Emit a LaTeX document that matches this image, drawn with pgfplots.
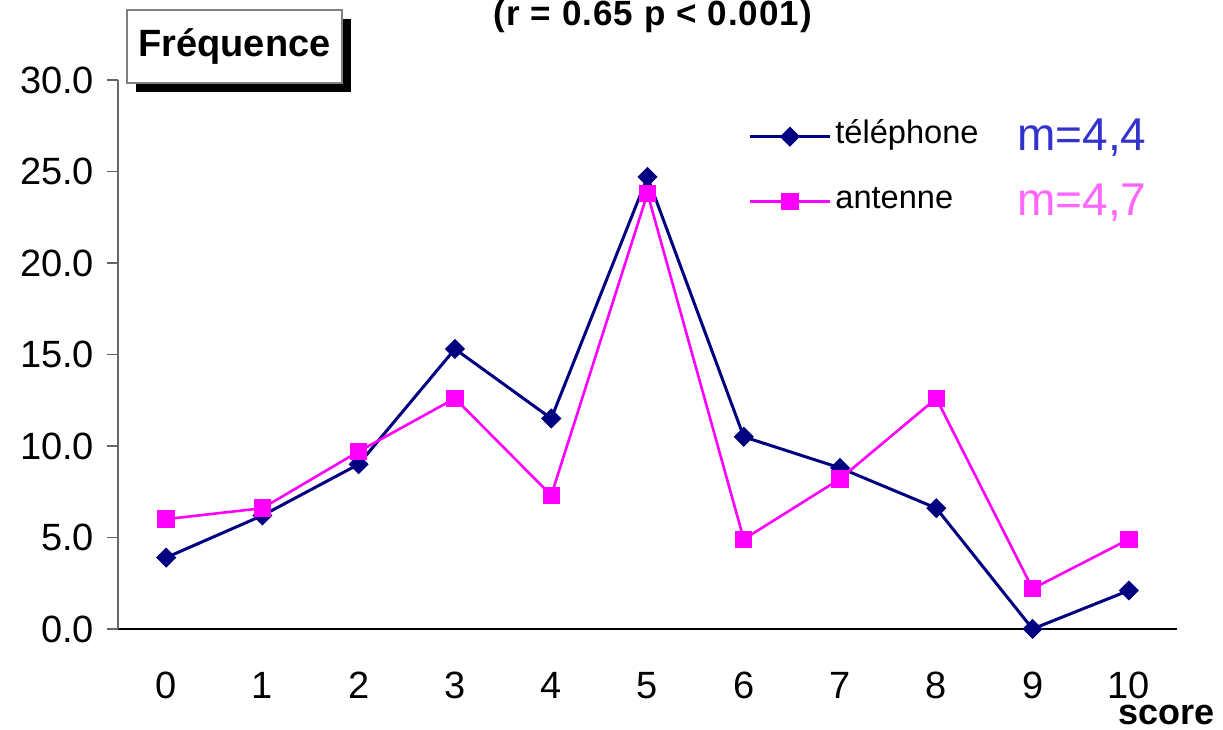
\documentclass[border=0pt]{standalone}
\usepackage{fontspec}
\setmainfont{Liberation Sans}
\usepackage{pgfplots}
\pgfplotsset{compat=1.18}
\usetikzlibrary{shadows}
\definecolor{telnavy}{RGB}{0,0,128}
\definecolor{antmag}{RGB}{255,0,255}
\definecolor{mblue}{RGB}{51,51,204}
\definecolor{mpink}{RGB}{255,102,255}

\begin{document}
\begin{tikzpicture}
\begin{axis}[
    x=48.135bp, y=9.15bp,
    xmin=-0.5, xmax=10.5,
    ymin=0, ymax=30,
    clip=false,
    axis x line*=bottom, axis y line*=left,
    x axis line style={-, black, line width=0.6bp},
    y axis line style={-, gray!80!black, line width=0.6bp},
    xtick={0,...,10},
    ytick={0,5,...,30},
    major x tick style={draw=none},
    ytick align=outside,
    major tick length=5.5bp,
    major y tick style={gray!80!black, line width=0.6bp},
    tick label style={
        font=\fontsize{19bp}{22bp}\selectfont,
        /pgf/number format/assume math mode=true
    },
    yticklabel style={
        /pgf/number format/.cd, fixed, fixed zerofill, precision=1,
        /tikz/.cd, xshift=-3bp
    },
    xticklabel style={inner sep=1bp, yshift=-20.3bp},
    legend style={
        at={(axis cs:6.044,27.96)}, anchor=north west,
        draw=none, fill=none, inner sep=0pt,
        font=\fontsize{16.3bp}{19bp}\selectfont,
        nodes={inner sep=2bp, text height=11bp, text depth=4bp},
        row sep=13.5bp
    },
    legend cell align=left,
    legend image code/.code={
        \draw[mark repeat=2, mark phase=2, #1]
            plot coordinates {(0bp,0bp) (20bp,0bp) (40bp,0bp)};
    },
]

\addplot[telnavy, line width=1.5bp, mark=square*,
    mark size=3.3bp, mark options={rotate=45, solid, fill=telnavy, line width=0.5bp}]
    coordinates {
        (0,3.9) (1,6.2) (2,9.0) (3,15.3) (4,11.5) (5,24.7)
        (6,10.5) (7,8.8) (8,6.6) (9,0.0) (10,2.1)
    };
\addlegendentry{téléphone}

\addplot[antmag, line width=1.3bp, mark=square*,
    mark size=3.7bp, mark options={solid, fill=antmag}]
    coordinates {
        (0,6.0) (1,6.6) (2,9.7) (3,12.6) (4,7.3) (5,23.8)
        (6,4.9) (7,8.2) (8,12.6) (9,2.2) (10,4.9)
    };
\addlegendentry{antenne}

% annotations
\node[anchor=base, font=\fontsize{17.5bp}{20bp}\selectfont\bfseries\addfontfeature{LetterSpace=3}]
    at (axis cs:5.057,33.0) {(r = 0.65 p < 0.001)};
\node[draw=gray, fill=white, line width=0.6bp,
    minimum width=107.5bp, minimum height=36.5bp,
    drop shadow={shadow xshift=4.5bp, shadow yshift=-4.5bp, fill=black, opacity=1},
    font=\fontsize{19bp}{22bp}\selectfont\bfseries]
    at (axis cs:0.710,31.83) {Fréquence};
\node[anchor=base west, inner sep=0pt, text=mblue,
    font=\fontsize{23bp}{26bp}\selectfont]
    at (axis cs:8.838,26.17) {m=4,4};
\node[anchor=base west, inner sep=0pt, text=mpink,
    font=\fontsize{23bp}{26bp}\selectfont]
    at (axis cs:8.838,22.62) {m=4,7};
\node[anchor=base, inner sep=0pt, font=\fontsize{18bp}{21bp}\selectfont\bfseries]
    at (axis cs:10.39,-5.2) {score};

\coordinate (bbl) at (axis cs:-1.726,-5.52);
\coordinate (btr) at (axis cs:10.978,34.37);
\end{axis}
\pgfresetboundingbox
\useasboundingbox (bbl) rectangle (btr);
\end{tikzpicture}
\end{document}
